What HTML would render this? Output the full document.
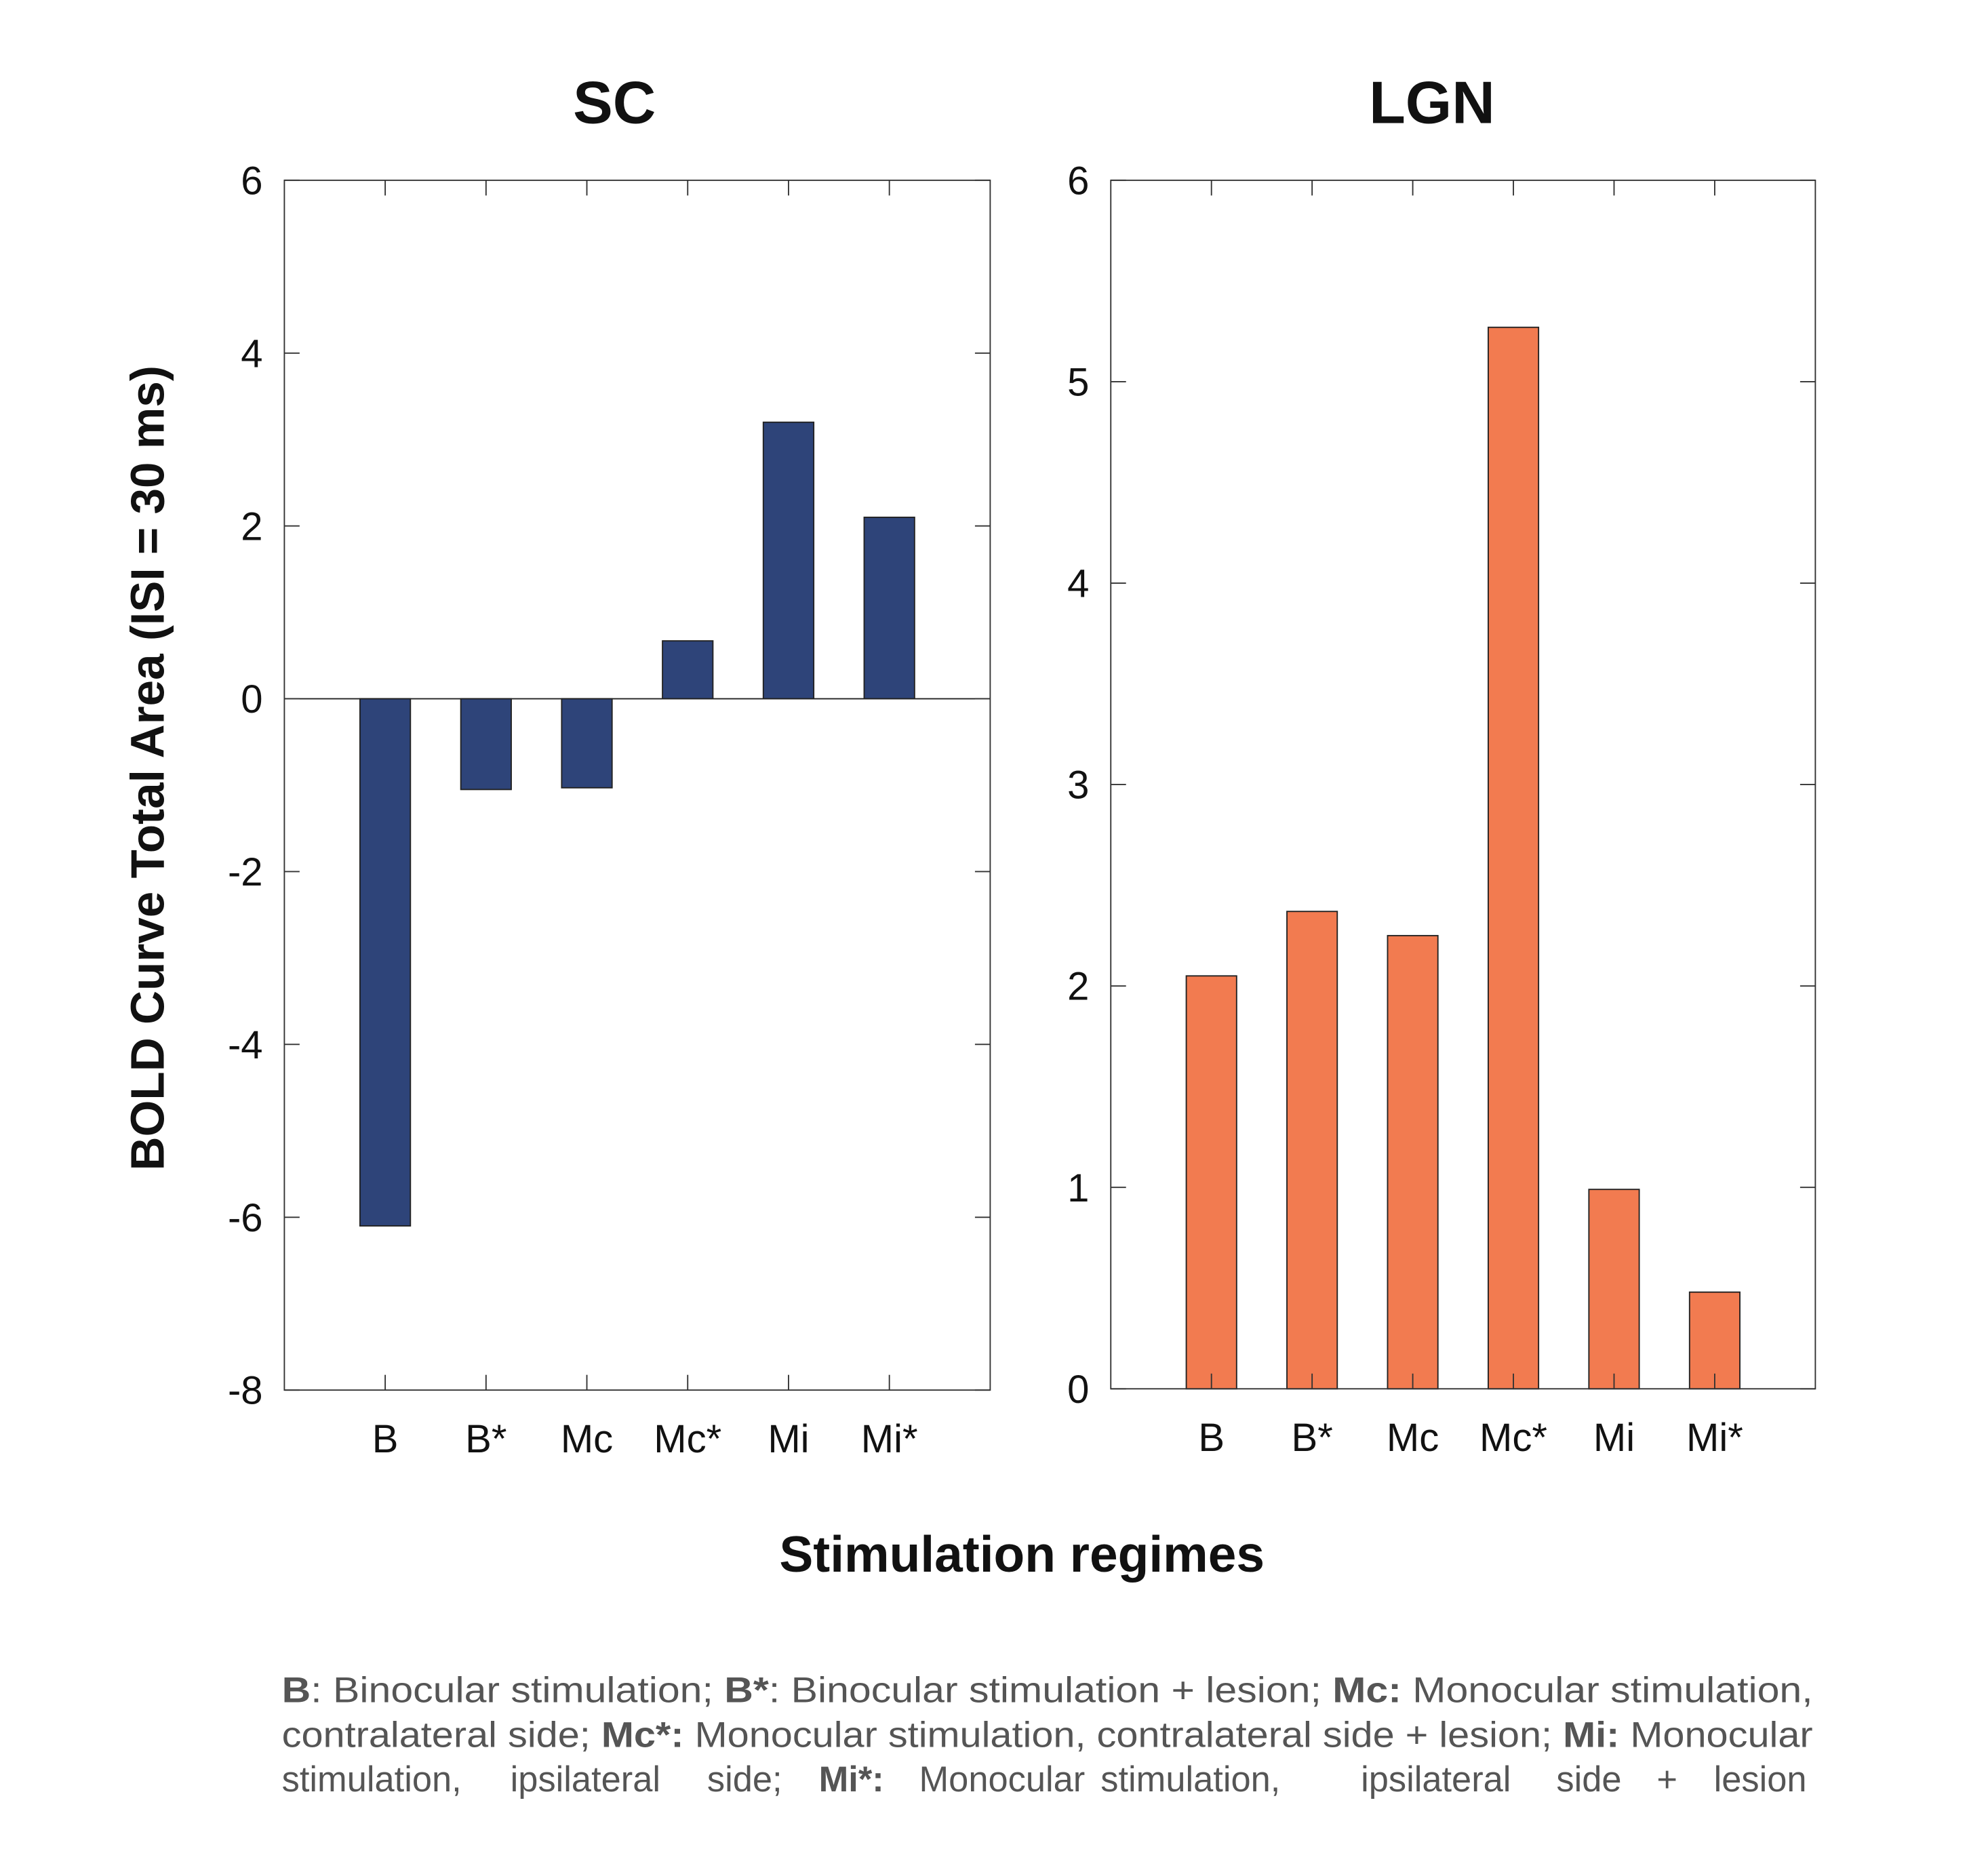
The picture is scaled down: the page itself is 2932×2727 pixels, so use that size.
<!DOCTYPE html>
<html><head><meta charset="utf-8"><style>
html,body{margin:0;padding:0;background:#fff;}
svg{display:block;font-family:"Liberation Sans",Arial,sans-serif;}
</style></head><body>
<svg id="fig" width="2932" height="2727" viewBox="0 0 1566 1456.5" xmlns="http://www.w3.org/2000/svg">
<rect width="1566" height="1456.5" fill="#fff"/>
<g id="sc"></g>
<g id="lgn"></g>
<text transform="translate(129,605) rotate(-90)" text-anchor="middle" font-size="37" font-weight="bold" fill="#111">BOLD Curve Total Area (ISI = 30 ms)</text>
<text x="805" y="1238" text-anchor="middle" font-size="40" font-weight="bold" fill="#111">Stimulation regimes</text>
<g font-size="28" fill="#555">
<text x="222" y="1341" textLength="1206" lengthAdjust="spacingAndGlyphs"><tspan font-weight="bold">B</tspan>: Binocular stimulation; <tspan font-weight="bold">B*</tspan>: Binocular stimulation + lesion; <tspan font-weight="bold">Mc:</tspan> Monocular stimulation,</text>
<text x="222" y="1376" textLength="1206" lengthAdjust="spacingAndGlyphs">contralateral side; <tspan font-weight="bold">Mc*:</tspan> Monocular stimulation, contralateral side + lesion; <tspan font-weight="bold">Mi:</tspan> Monocular</text>
<text y="1411"><tspan x="222">stimulation,</tspan><tspan x="402">ipsilateral</tspan><tspan x="557">side;</tspan><tspan x="645" font-weight="bold">Mi*:</tspan><tspan x="724">Monocular</tspan><tspan x="867">stimulation,</tspan><tspan x="1072">ipsilateral</tspan><tspan x="1226">side</tspan><tspan x="1305">+</tspan><tspan x="1350">lesion</tspan></text>
</g>
</svg>
<script>
const categories = ["B","B*","Mc","Mc*","Mi","Mi*"];
const scValues = [-6.1,-1.05,-1.03,0.67,3.2,2.1];
const lgnValues = [2.05,2.37,2.25,5.27,0.99,0.48];
const scTicks = [-8,-6,-4,-2,0,2,4,6];
const lgnTicks = [0,1,2,3,4,5,6];
const NS="http://www.w3.org/2000/svg";
function mk(parent,tag,attrs){const e=document.createElementNS(NS,tag);for(const k in attrs)e.setAttribute(k,attrs[k]);parent.appendChild(e);return e;}
function panel(g,title,titleX,vals,ticks,ymin,ymax,L,R,T,B,color,zeroLine){
  const sx=i=>L+(i+1)*(R-L)/7;
  const sy=v=>B-(v-ymin)/(ymax-ymin)*(B-T);
  const t=mk(g,'text',{x:titleX,y:97,'text-anchor':'middle','font-size':47,'font-weight':'bold',fill:'#111'});
  t.textContent=title;
  
  
  const bw=0.5*(R-L)/7;
  vals.forEach((v,i)=>{
    const y0=sy(0),y1=sy(v);
    const r=mk(g,'rect',{x:sx(i)-bw/2,y:Math.min(y0,y1),width:bw,height:Math.abs(y1-y0),fill:color,stroke:'#222','stroke-width':1});
    
    
  });
  if(zeroLine){const z=mk(g,'line',{x1:L,x2:R,y1:sy(0),y2:sy(0),stroke:'#222','stroke-width':1});
    
    }
  const f=mk(g,'rect',{x:L,y:T,width:R-L,height:B-T,fill:'none',stroke:'#333','stroke-width':1});
  
  
  ticks.forEach(v=>{
    const y=sy(v);
    mk(g,'line',{x1:L,x2:L+12,y1:y,y2:y,stroke:'#333','stroke-width':1});
    mk(g,'line',{x1:R-12,x2:R,y1:y,y2:y,stroke:'#333','stroke-width':1});
    const tl=mk(g,'text',{x:L-17,y:y+11,'text-anchor':'end','font-size':31,fill:'#111'});
    tl.textContent=String(v);
    
    
  });
  categories.forEach((c,i)=>{
    const x=sx(i);
    mk(g,'line',{x1:x,x2:x,y1:T,y2:T+12,stroke:'#333','stroke-width':1});
    mk(g,'line',{x1:x,x2:x,y1:B-12,y2:B,stroke:'#333','stroke-width':1});
    const tl=mk(g,'text',{x:x,y:B+49,'text-anchor':'middle','font-size':31,fill:'#111'});
    tl.textContent=c;
    
    
  });
}
panel(document.getElementById('sc'),"SC",484,scValues,scTicks,-8,6,224,780,142,1095,'#2e4479',true);
panel(document.getElementById('lgn'),"LGN",1128,lgnValues,lgnTicks,0,6,875,1430,142,1094,'#f27b50',false);
</script>
</body></html>
